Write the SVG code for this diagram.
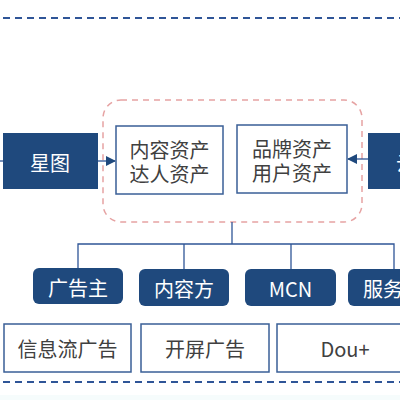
<svg xmlns="http://www.w3.org/2000/svg" width="400" height="400" viewBox="0 0 400 400">
<defs>
<style>
.dark{fill:#1F497D;}
.box{fill:#fff;stroke:#3A5F97;stroke-width:1.5;}
.t{font-family:"Noto Sans CJK SC","Liberation Sans",sans-serif;font-size:20px;text-anchor:middle;dominant-baseline:central;}
.w{fill:#fff;}
.g{fill:#404040;}
.ln{fill:none;stroke:#2F5597;stroke-width:1.3;}
.sep{fill:none;stroke:#2F5597;stroke-width:2;stroke-dasharray:7 5;}
</style>
<marker id="ah" viewBox="0 0 10 10" refX="9" refY="5" markerWidth="10" markerHeight="10" markerUnits="userSpaceOnUse" orient="auto">
<path d="M0,0 L10,5 L0,10 z" fill="#1F497D"/>
</marker>
</defs>
<rect x="0" y="395" width="400" height="5" fill="#F6FCFC"/>
<line class="sep" x1="3" y1="18" x2="400" y2="18"/>
<line class="sep" x1="3" y1="382" x2="400" y2="382"/>
<rect id="group-frame" x="103" y="100" width="259" height="122" rx="18" fill="none" stroke="#E6A3A3" stroke-width="1.5" stroke-dasharray="6 5"/>
<g id="connectors">
<line class="ln" x1="0" y1="161" x2="3" y2="161"/>
<line class="ln" x1="98" y1="161" x2="115" y2="161" marker-end="url(#ah)" stroke="#1F497D"/>
<line class="ln" x1="368" y1="159" x2="348" y2="159" marker-end="url(#ah)" stroke="#1F497D"/>
<polyline class="ln" points="232,222 232,244"/>
<polyline class="ln" points="78,268 78,244 394,244 394,269"/>
<line class="ln" x1="184" y1="244" x2="184" y2="269"/>
<line class="ln" x1="291" y1="244" x2="291" y2="269"/>
</g>
<g id="xingtu">
<rect class="dark" x="3" y="133" width="95" height="56"/>
<text class="t w" x="50" y="162" font-size="21">星图</text>
</g>
<g id="yuntu">
<rect class="dark" x="368" y="133" width="40" height="56"/>
<text class="t w" x="416" y="162" font-size="21">云图</text>
</g>
<g id="content-assets">
<rect class="box" x="116" y="126" width="107" height="68"/>
<text class="t g" x="169.5" y="149">内容资产</text>
<text class="t g" x="169.5" y="173">达人资产</text>
</g>
<g id="brand-assets">
<rect class="box" x="237" y="125" width="110" height="68"/>
<text class="t g" x="292" y="148">品牌资产</text>
<text class="t g" x="292" y="172">用户资产</text>
</g>
<g id="advertiser">
<rect class="dark" x="33" y="268" width="90" height="36" rx="6"/>
<text class="t w" x="78" y="287">广告主</text>
</g>
<g id="content-party">
<rect class="dark" x="139" y="269" width="90" height="37" rx="6"/>
<text class="t w" x="184" y="288">内容方</text>
</g>
<g id="mcn">
<rect class="dark" x="245" y="269" width="91" height="37" rx="6"/>
<text class="t w" x="290.5" y="288" font-family="Liberation Sans,sans-serif">MCN</text>
</g>
<g id="service">
<rect class="dark" x="348" y="269" width="90" height="37" rx="6"/>
<text class="t w" x="393" y="288">服务商</text>
</g>
<g id="feed-ads">
<rect class="box" x="4" y="324" width="127" height="48"/>
<text class="t g" x="67.5" y="348">信息流广告</text>
</g>
<g id="splash-ads">
<rect class="box" x="141" y="324" width="128" height="48"/>
<text class="t g" x="205" y="348">开屏广告</text>
</g>
<g id="dou">
<rect class="box" x="277" y="324" width="136" height="48"/>
<text class="t g" x="345" y="348" font-family="Liberation Sans,sans-serif">Dou+</text>
</g>
</svg>
